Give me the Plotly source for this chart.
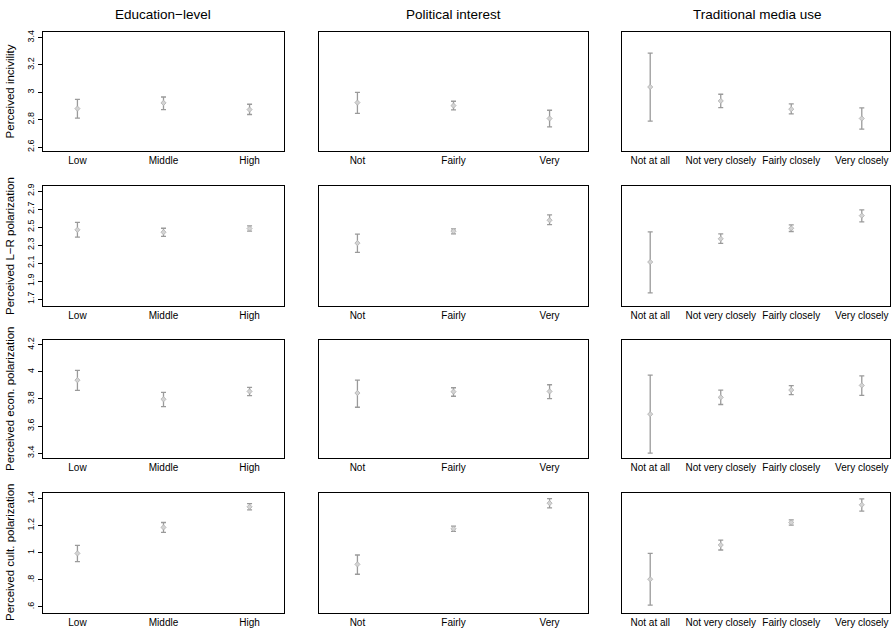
import plotly.graph_objects as go

W, H = 891, 631

col_titles = ["Education\u2212level", "Political interest", "Traditional media use"]
row_titles = ["Perceived incivility", "Perceived L\u2212R polarization",
              "Perceived econ. polarization", "Perceived cult. polarization"]

cats_edu = ["Low", "Middle", "High"]
cats_pol = ["Not", "Fairly", "Very"]
cats_med = ["Not at all", "Not very closely", "Fairly closely", "Very closely"]
categories = [cats_edu, cats_pol, cats_med]

# means, lower CI, upper CI  [row][col]
incivility_mean = [[2.881, 2.923, 2.874], [2.925, 2.903, 2.809], [3.039, 2.937, 2.877, 2.809]]
incivility_lo = [[2.811, 2.874, 2.838], [2.847, 2.872, 2.748], [2.789, 2.889, 2.843, 2.731]]
incivility_hi = [[2.949, 2.966, 2.913], [3.000, 2.935, 2.869], [3.287, 2.986, 2.915, 2.886]]

lr_mean = [[2.470, 2.443, 2.484], [2.322, 2.454, 2.576], [2.112, 2.370, 2.487, 2.627]]
lr_lo = [[2.388, 2.396, 2.454], [2.219, 2.425, 2.528], [1.770, 2.318, 2.451, 2.558]]
lr_hi = [[2.553, 2.487, 2.514], [2.421, 2.480, 2.635], [2.447, 2.425, 2.525, 2.690]]

econ_mean = [[3.939, 3.798, 3.856], [3.844, 3.854, 3.856], [3.688, 3.812, 3.866, 3.900]]
econ_lo = [[3.864, 3.744, 3.825], [3.739, 3.820, 3.803], [3.400, 3.759, 3.832, 3.827]]
econ_hi = [[4.012, 3.849, 3.885], [3.939, 3.883, 3.905], [3.976, 3.866, 3.898, 3.971]]

cult_mean = [[0.995, 1.187, 1.339], [0.914, 1.177, 1.366], [0.804, 1.057, 1.223, 1.354]]
cult_lo = [[0.934, 1.150, 1.317], [0.841, 1.157, 1.331], [0.613, 1.020, 1.204, 1.307]]
cult_hi = [[1.054, 1.223, 1.363], [0.983, 1.196, 1.400], [0.995, 1.093, 1.243, 1.398]]

means = [incivility_mean, lr_mean, econ_mean, cult_mean]
los = [incivility_lo, lr_lo, econ_lo, cult_lo]
his = [incivility_hi, lr_hi, econ_hi, cult_hi]

ytickvals = [[2.6, 2.8, 3.0, 3.2, 3.4],
             [1.7, 1.9, 2.1, 2.3, 2.5, 2.7, 2.9],
             [3.4, 3.6, 3.8, 4.0, 4.2],
             [0.6, 0.8, 1.0, 1.2, 1.4]]
yticktext = [["2.6", "2.8", "3", "3.2", "3.4"],
             ["1.7", "1.9", "2.1", "2.3", "2.5", "2.7", "2.9"],
             ["3.4", "3.6", "3.8", "4", "4.2"],
             [".6", ".8", "1", "1.2", "1.4"]]
yranges = [[2.571, 3.442], [1.623, 2.958], [3.363, 4.237], [0.554, 1.442]]

# layout in pixels
col_px = [(43, 284), (319, 588), (622, 890)]
row_px = [(29, 149), (184, 305), (339, 458), (493, 614)]

FONT = "Liberation Sans, Arial, Helvetica, sans-serif"
fig = go.Figure()
layout = dict(width=W, height=H, margin=dict(l=0, r=0, t=0, b=0),
              plot_bgcolor="white", paper_bgcolor="white", showlegend=False,
              font=dict(family=FONT, color="black"))
annotations = []

idx = 0
for r in range(4):
    for c in range(3):
        idx += 1
        xa = "x" if idx == 1 else f"x{idx}"
        ya = "y" if idx == 1 else f"y{idx}"
        cats = categories[c]
        xs = list(range(1, len(cats) + 1))
        m = means[r][c]
        lo = los[r][c]
        hi = his[r][c]
        fig.add_trace(go.Scatter(
            x=xs, y=m, mode="markers", xaxis=xa, yaxis=ya,
            marker=dict(symbol="diamond", size=4, color="#d4d4d4",
                        line=dict(width=0.8, color="#b0b0b0")),
            error_y=dict(type="data", symmetric=False,
                         array=[h - v for h, v in zip(hi, m)],
                         arrayminus=[v - l for v, l in zip(m, lo)],
                         color="#9a9a9a", thickness=1.3, width=2.5),
            hoverinfo="skip"))
        x0, x1 = col_px[c]
        y0, y1 = row_px[r]
        xkey = "xaxis" if idx == 1 else f"xaxis{idx}"
        ykey = "yaxis" if idx == 1 else f"yaxis{idx}"
        layout[xkey] = dict(domain=[x0 / W, x1 / W], anchor=ya,
                            range=[0.6, len(cats) + 0.4],
                            tickvals=xs, ticktext=cats, ticks="",
                            tickfont=dict(size=10, family=FONT),
                            showgrid=False, zeroline=False,
                            showline=True, mirror=True, linecolor="black", linewidth=1)
        ydict = dict(domain=[1 - y1 / H, 1 - y0 / H], anchor=xa,
                     range=yranges[r], showgrid=False, zeroline=False,
                     showline=True, mirror=True, linecolor="black", linewidth=1)
        if c == 0:
            ydict.update(tickvals=ytickvals[r], ticktext=yticktext[r],
                         ticks="outside", ticklen=4, tickcolor="black",
                         tickangle=-90, tickfont=dict(size=9, family=FONT))
        else:
            ydict.update(showticklabels=False, ticks="")
        layout[ykey] = ydict

col_centers = [163, 453, 757]
for t, cx in zip(col_titles, col_centers):
    annotations.append(dict(text=t, x=cx / W, y=1 - 12 / H, xref="paper", yref="paper",
                            showarrow=False, xanchor="center", yanchor="middle",
                            font=dict(size=13.5, family=FONT)))
for r, t in enumerate(row_titles):
    y0, y1 = row_px[r]
    annotations.append(dict(text=t, x=10 / W, y=1 - (y0 + y1) / 2 / H,
                            xref="paper", yref="paper", showarrow=False,
                            textangle=-90, xanchor="center", yanchor="middle",
                            font=dict(size=11.5, family=FONT)))
layout["annotations"] = annotations
fig.update_layout(**layout)
fig.write_html("out.html", config={"displayModeBar": False},
               post_script="document.body.style.margin='0';document.body.style.overflow='hidden';")
